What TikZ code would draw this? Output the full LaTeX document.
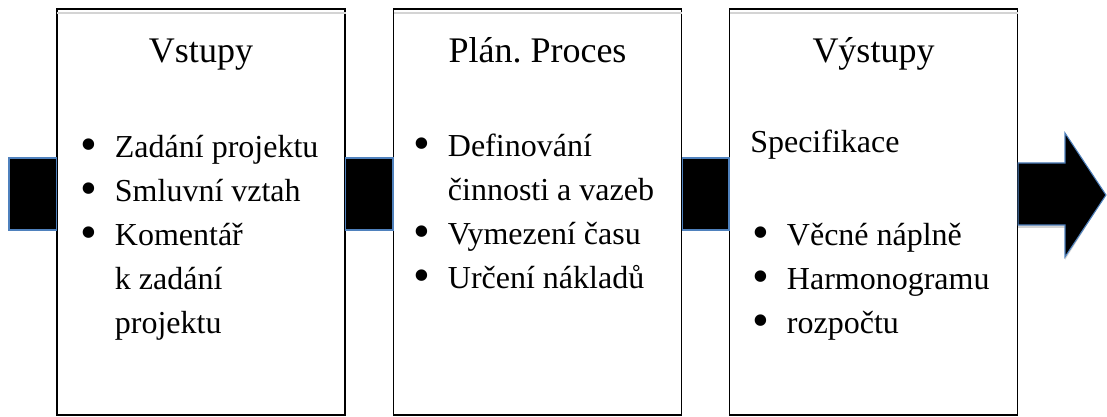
\documentclass[tikz,border=0pt]{standalone}
\usepackage{fontspec}
\setmainfont{Liberation Serif}
\usepackage{xcolor}
\usepackage{tikz}
\definecolor{linkblue}{HTML}{4F81BD}
\definecolor{shadowgray}{HTML}{D4D4D4}
\newcommand{\bul}[1]{\makebox[26pt][l]{\raisebox{-2.5pt}{\scalebox{1.5}{\textbullet}}}#1}
\newcommand{\cont}[1]{\hspace*{26pt}#1}
\frenchspacing

\begin{document}
\begin{tikzpicture}[x=0.75pt,y=-0.75pt,
    box/.style={draw=black,line width=0.8pt,fill=white,minimum width=216pt,minimum height=304.5pt,inner sep=0pt},
    title/.style={anchor=base,font=\fontsize{27}{32}\selectfont},
    items/.style={anchor=base west,align=left,inner sep=0pt,font=\fontsize{24}{33}\selectfont},
    link/.style={fill=black,draw=linkblue,line width=0.8pt},
    shade/.style={fill=shadowgray,yshift=-2.25pt}]
  \useasboundingbox (0,0) rectangle (1107,417);
  \coordinate (top) at (0,158); \coordinate (bot) at (0,230);
  \coordinate (in) at (9,194);
  % boxes
  \node[box] (vstupy)  at (201,212)   {};
  \node[box] (proces)  at (537.5,212) {};
  \node[box] (vystupy) at (873.5,212) {};
  \foreach \b in {vstupy,proces,vystupy}
    \draw[shadowgray,line width=1.2pt] ([xshift=0.6pt,yshift=-3.2pt]\b.north west) -- ([yshift=-3.2pt]\b.north east);
  % connectors
  \fill[shade] (in |- top) rectangle (vstupy.west |- bot);
  \fill[shade] (vstupy.east |- top) rectangle (proces.west |- bot);
  \fill[shade] (proces.east |- top) rectangle (vystupy.west |- bot);
  \draw[link] (in |- top) rectangle (vstupy.west |- bot);
  \draw[link] (vstupy.east |- top) rectangle (proces.west |- bot);
  \draw[link] (proces.east |- top) rectangle (vystupy.west |- bot);
  \coordinate (tip) at (1106,195);
  \fill[shade] (vystupy.east |- 0,163) -- (1065,163) -- (1065,133) -- (tip)
    -- (1065,257) -- (1065,225) -- (vystupy.east |- 0,225) -- cycle;
  \draw[link] (vystupy.east |- 0,163) -- (1065,163) -- (1065,133) -- (tip)
    -- (1065,257) -- (1065,225) -- (vystupy.east |- 0,225) -- cycle;
  % titles
  \node[title] (t1) at (vstupy.center |- 0,63)  {Vstupy};
  \node[title] (t2) at (proces.center |- 0,63)  {Plán. Proces};
  \node[title] (t3) at (vystupy.center |- 0,63) {Výstupy};
  % texts (base = last line)
  \node[items] (l1) at (80,333) {\bul{Zadání projektu}\\ \bul{Smluvní vztah}\\ \bul{Komentář}\\ \cont{k zadání}\\ \cont{projektu}};
  \node[items] (l2) at (413,288) {\bul{Definování}\\ \cont{činnosti a vazeb}\\ \bul{Vymezení času}\\ \bul{Určení nákladů}};
  \node[items] (spec) at (750,153) {Specifikace};
  \node[items] (l3) at (752,333) {\bul{Věcné náplně}\\ \bul{Harmonogramu}\\ \bul{rozpočtu}};
\end{tikzpicture}
\end{document}
